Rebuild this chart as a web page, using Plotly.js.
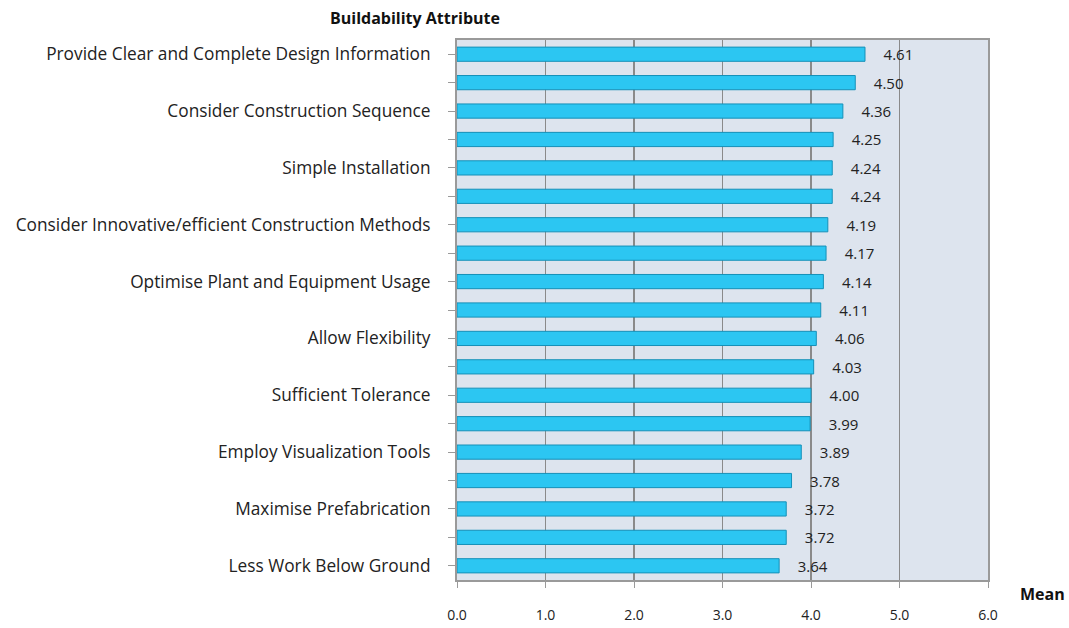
<!DOCTYPE html>
<html><head><meta charset="utf-8">
<script src="https://cdn.plot.ly/plotly-3.0.1.min.js"></script>
<style>body{margin:0;background:#fff}#c{width:1069px;height:628px}</style>
</head><body><div id="c"></div>
<script>
const attributeLabels = [
  "Provide Clear and Complete Design Information", "",
  "Consider Construction Sequence", "",
  "Simple Installation", "",
  "Consider Innovative/efficient Construction Methods", "",
  "Optimise Plant and Equipment Usage", "",
  "Allow Flexibility", "",
  "Sufficient Tolerance", "",
  "Employ Visualization Tools", "",
  "Maximise Prefabrication", "",
  "Less Work Below Ground"
];
const meanValues = [4.61, 4.50, 4.36, 4.25, 4.24, 4.24, 4.19, 4.17, 4.14, 4.11,
                    4.06, 4.03, 4.00, 3.99, 3.89, 3.78, 3.72, 3.72, 3.64];
const xTicks = [0, 1, 2, 3, 4, 5, 6];
const xTickText = ["0.0", "1.0", "2.0", "3.0", "4.0", "5.0", "6.0"];

const pos = attributeLabels.map((_, i) => i);
const font = "'Open Sans', Lato, sans-serif";

const trace = {
  type: "bar", orientation: "h",
  x: meanValues, y: pos,
  marker: {color: "#2cc6f2", line: {color: "#1590b8", width: 1}},
  width: 0.5,
  text: meanValues.map(v => v.toFixed(2)),
  texttemplate: "    %{text}",
  textposition: "outside",
  constraintext: "none",
  cliponaxis: false,
  textfont: {family: font, size: 15, color: "#222"},
  hoverinfo: "x+y"
};

const layout = {
  width: 1069, height: 628,
  margin: {l: 457, r: 81, t: 40, b: 48},
  paper_bgcolor: "#ffffff", plot_bgcolor: "#dde4ee",
  showlegend: false,
  font: {family: font, size: 14, color: "#222"},
  xaxis: {
    range: [0, 6], tickvals: xTicks, ticktext: xTickText,
    showgrid: true, gridcolor: "#8a8a8a", gridwidth: 1.5,
    zeroline: false, showline: true, linecolor: "#9a9a9a", linewidth: 2, mirror: true,
    ticks: "outside", ticklen: 6, tickcolor: "#9a9a9a",
    ticklabelstandoff: 15,
    tickfont: {family: font, size: 14, color: "#222"}
  },
  yaxis: {
    range: [18.5, -0.5], tickvals: pos, ticktext: attributeLabels,
    showgrid: false, zeroline: false,
    showline: true, linecolor: "#9a9a9a", linewidth: 2, mirror: true,
    ticks: "outside", ticklen: 7, tickcolor: "#9a9a9a",
    ticklabelstandoff: 14,
    tickfont: {family: font, size: 17.3, color: "#222"}
  },
  annotations: [
    {text: "<b>Buildability Attribute</b>", xref: "paper", yref: "paper",
     x: -0.079, y: 1, xanchor: "center", yanchor: "bottom", yshift: 9,
     showarrow: false, font: {family: font, size: 16, color: "#111"}},
    {text: "<b>Mean</b>", xref: "paper", yref: "paper", x: 1, y: 0,
     xanchor: "left", yanchor: "top", xshift: 30, yshift: -1, showarrow: false,
     font: {family: font, size: 16, color: "#111"}}
  ],
  bargap: 0.5
};

Plotly.newPlot("c", [trace], layout, {displayModeBar: false, staticPlot: true});
</script></body></html>
